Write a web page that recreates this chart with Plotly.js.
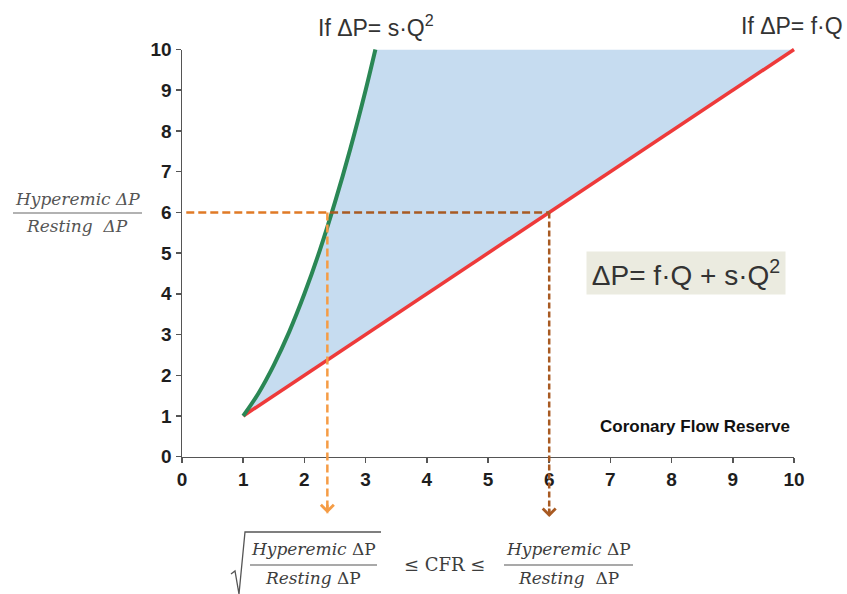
<!DOCTYPE html>
<html>
<head>
<meta charset="utf-8">
<script src="https://cdn.plot.ly/plotly-3.0.1.min.js"></script>
<style>html,body{margin:0;padding:0;background:#fff;}#chart{width:847px;height:594px;}</style>
</head>
<body>
<div id="chart"></div>
<script>
// ---- data ----
const ticks = [0, 1, 2, 3, 4, 5, 6, 7, 8, 9, 10];
const qSquare = [1, 1.25, 1.5, 1.75, 2, 2.25, 2.5, 2.75, 3, 3.16];
const dpSquare = [1, 1.56, 2.25, 3.06, 4, 5.06, 6.25, 7.56, 9, 10];
const qLinear = [1, 10];
const dpLinear = [1, 10];
const hOrangeX = [0.07, 2.42];
const hBrownX = [2.42, 6];
const hY = [6, 6];
const vOrangeX = [2.375, 2.375];
const vOrangeY = [6, -1.39];
const vBrownX = [6, 6];
const vBrownY = [6, -1.48];

// ---- geometry ----
const Wd = 847, Ht = 594;
const L = 182, R = 40, T = 40, B = 64;
const PW = Wd - L - R, PH = Ht - T - B;
const botPx = Ht - B;
const x0px = 182, x10px = 794, y0px = 456.7, y10px = 49.5;
const xs = (x10px - x0px) / 10, ys = (y0px - y10px) / 10;
const fx = p => (p - L) / PW;
const fy = p => (botPx - p) / PH;

const fillX = qSquare.concat(qLinear.slice().reverse());
const fillY = dpSquare.concat(dpLinear.slice().reverse());

const traces = [
  {x: fillX, y: fillY, xaxis: 'x', yaxis: 'y', mode: 'lines', fill: 'toself',
   fillcolor: '#c6dcf0', line: {width: 0}, hoverinfo: 'skip'},
  {x: qLinear, y: dpLinear, xaxis: 'x2', yaxis: 'y2', mode: 'lines',
   line: {color: '#ee3a3a', width: 3.5}},
  {x: qSquare, y: dpSquare, xaxis: 'x2', yaxis: 'y2', mode: 'lines', line: {color: '#2a8755', width: 4, shape: 'spline'}},
  {x: hOrangeX, y: hY, xaxis: 'x2', yaxis: 'y2', mode: 'lines', line: {color: '#e07a26', width: 2.5, dash: '8px,4px'}},
  {x: hBrownX, y: hY, xaxis: 'x2', yaxis: 'y2', mode: 'lines', line: {color: '#a85a22', width: 2.5, dash: '8px,4px'}},
  {x: vOrangeX, y: vOrangeY, xaxis: 'x2', yaxis: 'y2', mode: 'lines', line: {color: '#f59c45', width: 2.5, dash: '8px,4px'}},
  {x: vBrownX, y: vBrownY, xaxis: 'x2', yaxis: 'y2', mode: 'lines', line: {color: '#a85a22', width: 2.5, dash: '6px,3px'}}
];

const sans = 'Liberation Sans, Arial, sans-serif';
const tickFont = {family: sans, size: 19, color: '#1e1e1e', weight: 700};
const serif = 'DejaVu Serif, serif';
const fracColor = '#3d3d3d';

function pAnn(text, xp, yp, size, opts) {
  return Object.assign({xref: 'paper', yref: 'paper', x: fx(xp), y: fy(yp), text: text,
    showarrow: false, xanchor: 'center', yanchor: 'middle',
    font: {family: serif, size: size, color: fracColor, weight: 400}}, opts || {});
}

const annotations = [
  pAnn('If ΔP= s·Q<sup>2</sup>', 376, 26, 23, {font: {family: sans, size: 23, color: '#333', weight: 400}}),
  pAnn('If ΔP= f·Q', 845, 26, 23, {xanchor: 'right', font: {family: sans, size: 23, color: '#333', weight: 400}}),
  pAnn('ΔP= f·Q + s·Q<sup>2</sup>', 686, 273, 28, {bgcolor: '#ebebe0', borderpad: 4, width: 190, height: 34,
      font: {family: sans, size: 28, color: '#333', weight: 400}}),
  pAnn('Coronary Flow Reserve', 695, 426, 17, {font: {family: sans, size: 17, color: '#111', weight: 700}}),
  pAnn('<i>Hyperemic ΔP</i>', 77, 199, 17, {font: {family: serif, size: 17, color: '#555', weight: 400}}),
  pAnn('<i>Resting  ΔP</i>', 77, 226, 17, {font: {family: serif, size: 17, color: '#555', weight: 400}}),
  pAnn('<i>Hyperemic</i> ΔP', 313, 549, 17),
  pAnn('<i>Resting</i> ΔP', 313, 578, 17),
  pAnn('≤ CFR ≤', 444, 564, 18),
  pAnn('<i>Hyperemic</i> ΔP', 568, 549, 17),
  pAnn('<i>Resting</i>  ΔP', 568, 578, 17),
  {xref: 'x2', yref: 'y2', x: vOrangeX[1], y: vOrangeY[1], ax: 0, ay: -10, text: '', showarrow: true,
   arrowhead: 4, arrowsize: 1, arrowwidth: 2.5, arrowcolor: '#f59c45'},
  {xref: 'x2', yref: 'y2', x: vBrownX[1], y: vBrownY[1], ax: 0, ay: -10, text: '', showarrow: true,
   arrowhead: 4, arrowsize: 1, arrowwidth: 2.5, arrowcolor: '#a85a22'}
];

const shapes = [
  {type: 'line', xref: 'paper', yref: 'paper', x0: fx(13), x1: fx(142), y0: fy(213), y1: fy(213), line: {color: '#666', width: 1.2}},
  {type: 'line', xref: 'paper', yref: 'paper', x0: fx(250), x1: fx(377), y0: fy(565), y1: fy(565), line: {color: '#555', width: 1.2}},
  {type: 'line', xref: 'paper', yref: 'paper', x0: fx(504), x1: fx(633), y0: fy(565), y1: fy(565), line: {color: '#555', width: 1.2}},
  {type: 'path', xref: 'paper', yref: 'paper',
   path: 'M ' + fx(231) + ' ' + fy(574) + ' L ' + fx(235) + ' ' + fy(571) + ' L ' + fx(239) + ' ' + fy(594) +
         ' L ' + fx(245) + ' ' + fy(532) + ' L ' + fx(381) + ' ' + fy(532),
   line: {color: '#555', width: 1.3}}
];

function axis(extra) {
  return Object.assign({range: [0, 10], tickmode: 'array', tickvals: ticks, ticktext: ticks.map(String),
    showline: true, linecolor: '#555', linewidth: 1.5, ticks: 'outside', ticklen: 5, tickwidth: 1.5, tickcolor: '#555',
    showgrid: false, zeroline: false, automargin: false,
    tickfont: {family: tickFont.family, size: tickFont.size, color: tickFont.color, weight: tickFont.weight}}, extra);
}

const layout = {
  width: Wd, height: Ht,
  font: {family: sans, size: 19, color: '#1e1e1e'},
  margin: {l: L, r: R, t: T, b: B, pad: 0},
  paper_bgcolor: '#fff', plot_bgcolor: 'rgba(0,0,0,0)',
  showlegend: false,
  xaxis: axis({domain: [0, fx(x10px)], anchor: 'y'}),
  yaxis: axis({domain: [fy(y0px), fy(y10px)], anchor: 'x'}),
  xaxis2: {domain: [0, 1], range: [0, PW / xs], anchor: 'y2', visible: false},
  yaxis2: {domain: [0, 1], range: [(y0px - botPx) / ys, (y0px - T) / ys], anchor: 'x2', visible: false},
  annotations: annotations,
  shapes: shapes
};

Plotly.newPlot('chart', traces, layout, {staticPlot: true});
</script>
</body>
</html>
